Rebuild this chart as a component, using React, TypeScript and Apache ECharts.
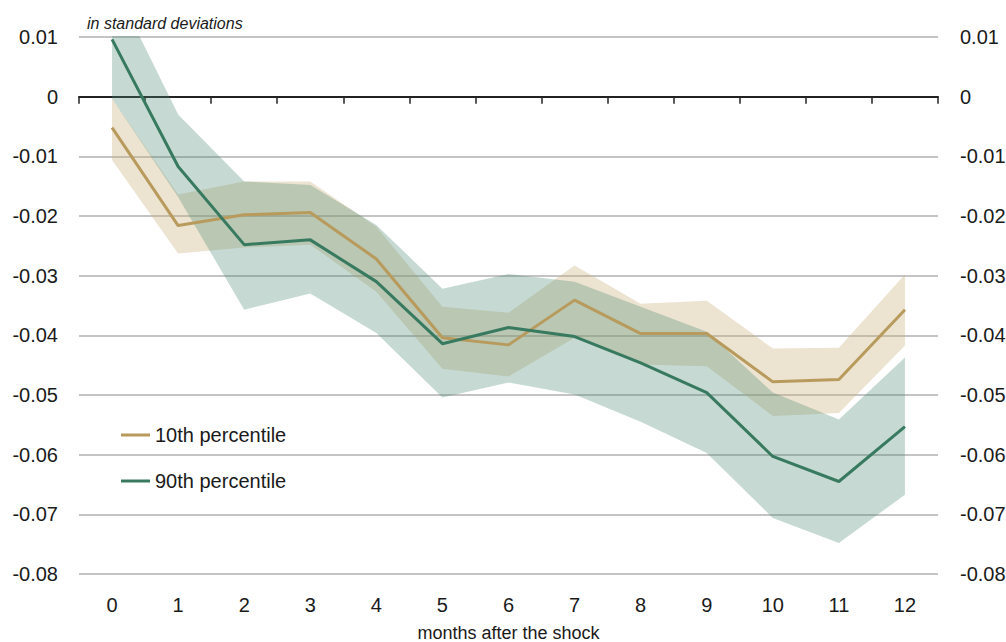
import React, { useEffect, useRef } from "react";
import * as echarts from "echarts";

const months = ["0", "1", "2", "3", "4", "5", "6", "7", "8", "9", "10", "11", "12"];
const p10 = [-0.0052, -0.0216, -0.0198, -0.0194, -0.0272, -0.0404, -0.0416, -0.0341, -0.0397, -0.0397, -0.0478, -0.0474, -0.0357];
const p10Upper = [-0.0003, -0.0164, -0.0142, -0.0142, -0.0218, -0.0352, -0.0362, -0.0283, -0.0347, -0.0342, -0.0422, -0.0421, -0.0298];
const p10Lower = [-0.0106, -0.0263, -0.0253, -0.0248, -0.0327, -0.0456, -0.0469, -0.0404, -0.0449, -0.0452, -0.0535, -0.053, -0.0417];
const p90 = [0.0096, -0.0117, -0.0248, -0.024, -0.031, -0.0414, -0.0387, -0.0402, -0.0446, -0.0496, -0.0603, -0.0645, -0.0553];
const p90Upper = [0.0195, -0.003, -0.0142, -0.0148, -0.0215, -0.0322, -0.0297, -0.031, -0.0352, -0.0394, -0.0496, -0.0541, -0.0437];
const p90Lower = [-0.0003, -0.0168, -0.0357, -0.033, -0.0396, -0.0504, -0.0479, -0.0499, -0.0545, -0.0597, -0.0706, -0.0748, -0.0667];
const yTicks = { min: -0.08, max: 0.01, interval: 0.01 };

const FONT = "'Liberation Sans', Arial, sans-serif";
const TAN = "#b89b5c";
const GREEN = "#387a60";

export default function App() {
  const ref = useRef<HTMLDivElement>(null);
  useEffect(() => {
    if (!ref.current) return;
    const chart = echarts.init(ref.current, null, { renderer: "svg" });
    const diff = (u: number[], l: number[]) => u.map((v, i) => +(v - l[i]).toFixed(5));
    const band = (stack: string, lower: number[], upper: number[], color: string) => [
      {
        type: "line",
        stack,
        stackStrategy: "all",
        data: lower,
        symbol: "none",
        lineStyle: { opacity: 0 },
        silent: true,
      },
      {
        type: "line",
        stack,
        stackStrategy: "all",
        data: diff(upper, lower),
        symbol: "none",
        lineStyle: { opacity: 0 },
        areaStyle: { color, opacity: 1 },
        silent: true,
      },
    ];
    chart.setOption({
      animation: false,
      textStyle: { fontFamily: FONT, color: "#1a1a1a" },
      title: {
        text: "in standard deviations",
        left: 87,
        top: 15,
        padding: 0,
        textStyle: { fontFamily: FONT, fontStyle: "italic", fontWeight: "normal", fontSize: 16, color: "#1a1a1a" },
      },
      grid: { left: 79, right: 68, top: 37, bottom: 68, containLabel: false, outerBoundsMode: "none" },
      legend: {
        orient: "vertical",
        left: 121,
        top: 425,
        padding: 0,
        itemGap: 26,
        itemWidth: 29,
        itemHeight: 3,
        icon: "rect",
        data: ["10th percentile", "90th percentile"],
        textStyle: { fontFamily: FONT, fontSize: 20, color: "#1a1a1a" },
      },
      xAxis: [
        {
          type: "category",
          data: months,
          boundaryGap: true,
          position: "bottom",
          axisLine: { show: false, onZero: false },
          axisTick: { show: false },
          axisLabel: { fontFamily: FONT, fontSize: 20, color: "#1a1a1a", margin: 21 },
          name: "months after the shock",
          nameLocation: "middle",
          nameGap: 50,
          nameTextStyle: { fontFamily: FONT, fontSize: 18, color: "#1a1a1a" },
        },
        {
          type: "category",
          data: months,
          boundaryGap: true,
          position: "bottom",
          axisLine: { show: true, onZero: true, onZeroAxisIndex: 0, lineStyle: { color: "#222", width: 2 } },
          axisTick: { show: true, length: 7, lineStyle: { color: "#222", width: 1.5 } },
          axisLabel: { show: false },
        },
      ],
      yAxis: [
        {
          type: "value",
          position: "left",
          ...yTicks,
          axisLine: { show: false },
          axisTick: { show: false },
          splitLine: { show: true, lineStyle: { color: "#b0b0b0", width: 1.5 } },
          axisLabel: { fontFamily: FONT, fontSize: 20, color: "#1a1a1a", margin: 21 },
        },
        {
          type: "value",
          position: "right",
          ...yTicks,
          axisLine: { show: false },
          axisTick: { show: false },
          splitLine: { show: false },
          axisLabel: { fontFamily: FONT, fontSize: 20, color: "#1a1a1a", margin: 22 },
        },
      ],
      series: [
        ...band("b10", p10Lower, p10Upper, "rgba(200,175,120,0.35)"),
        ...band("b90", p90Lower, p90Upper, "rgba(74,138,114,0.315)"),
        {
          name: "10th percentile",
          type: "line",
          data: p10,
          symbol: "none",
          lineStyle: { color: TAN, width: 3 },
          itemStyle: { color: TAN },
        },
        {
          name: "90th percentile",
          type: "line",
          data: p90,
          symbol: "none",
          lineStyle: { color: GREEN, width: 3 },
          itemStyle: { color: GREEN },
        },
      ],
    });
    return () => chart.dispose();
  }, []);
  return <div ref={ref} style={{ width: 1006, height: 642, position: "absolute", left: 0, top: 0 }} />;
}
